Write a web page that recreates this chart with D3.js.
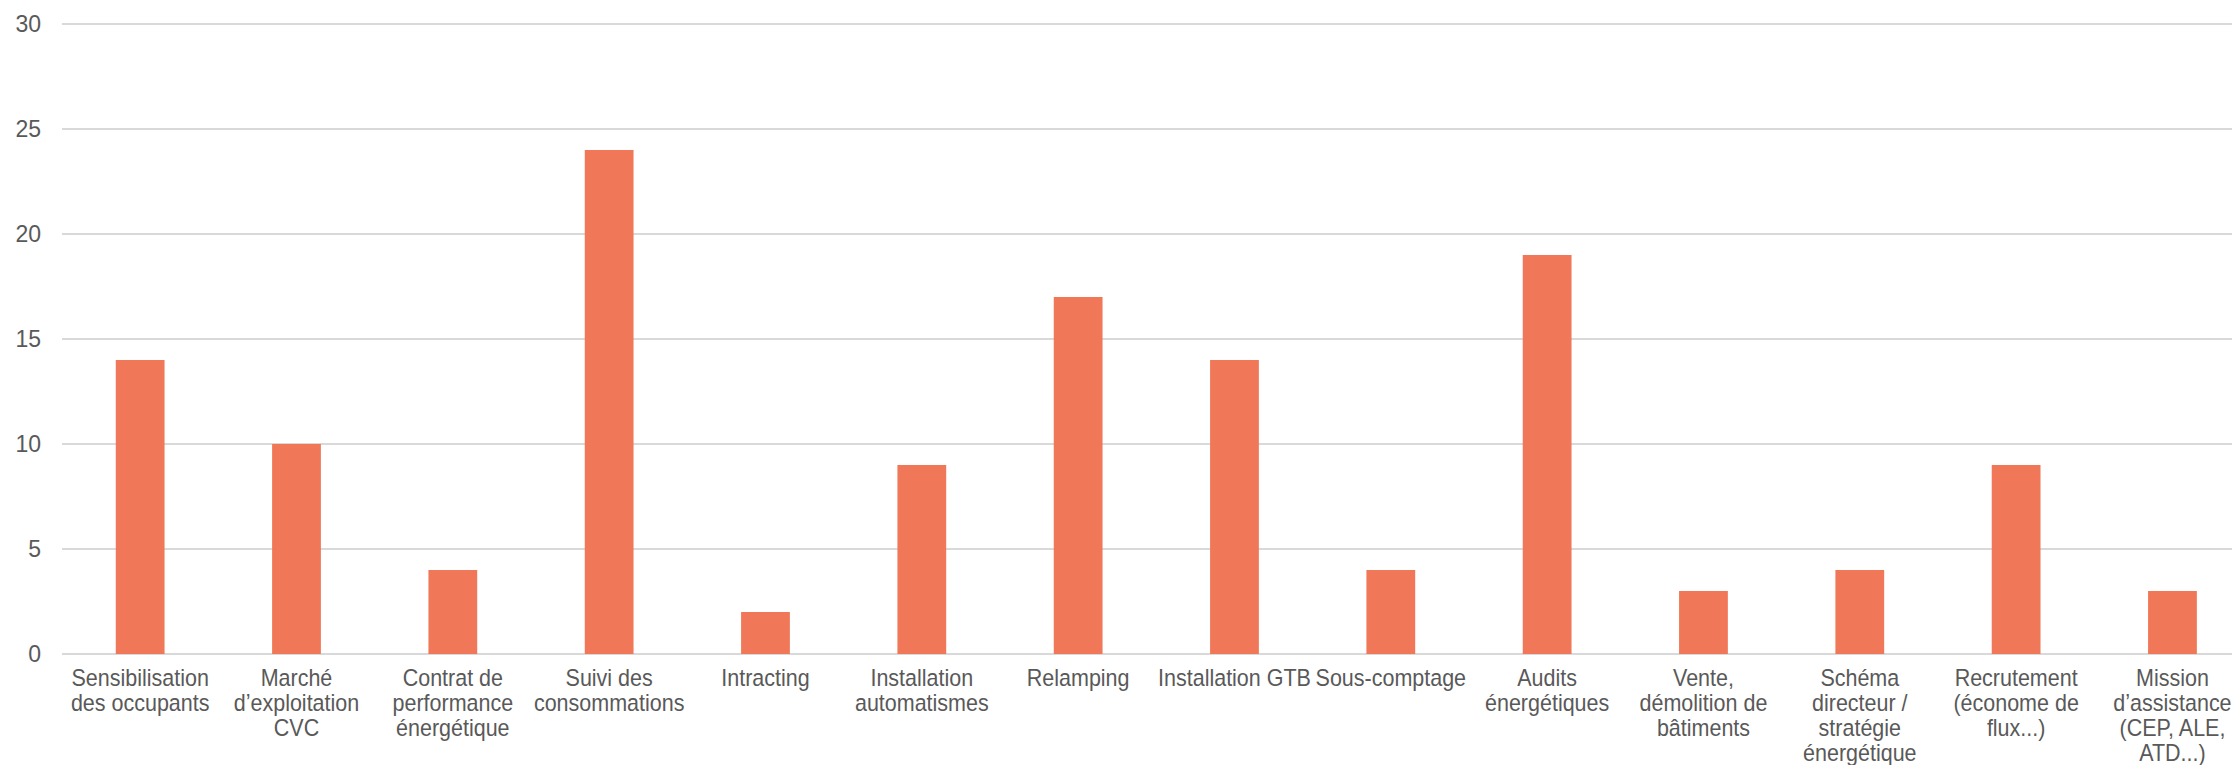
<!DOCTYPE html>
<html>
<head>
<meta charset="utf-8">
<script src="https://cdn.jsdelivr.net/npm/d3@7"></script>
<style>
  html, body { margin: 0; padding: 0; background: #fff; }
  svg { display: block; font-family: "Liberation Sans", Arial, sans-serif; }
</style>
</head>
<body>
<svg id="chart" width="2232" height="765"></svg>
<script>
// categories (lines as wrapped in the original chart)
const categories = [
  ["Sensibilisation", "des occupants"],
  ["Marché", "d’exploitation", "CVC"],
  ["Contrat de", "performance", "énergétique"],
  ["Suivi des", "consommations"],
  ["Intracting"],
  ["Installation", "automatismes"],
  ["Relamping"],
  ["Installation GTB"],
  ["Sous-comptage"],
  ["Audits", "énergétiques"],
  ["Vente,", "démolition de", "bâtiments"],
  ["Schéma", "directeur /", "stratégie", "énergétique"],
  ["Recrutement", "(économe de", "flux...)"],
  ["Mission", "d’assistance", "(CEP, ALE,", "ATD...)"]
]
const values = [14, 10, 4, 24, 2, 9, 17, 14, 4, 19, 3, 4, 9, 3]
const yTicks = [0, 5, 10, 15, 20, 25, 30]

const svg = d3.select('#chart')
const plotLeft = 62, plotTop = 24, plotBottom = 654
const step = 156.33
const stretch = 1.08   // labels look slightly tall in the original

const keys = categories.map(c => c.join(' '))

const x = d3.scaleBand()
    .domain(keys)
    .range([plotLeft, plotLeft + step * keys.length])
    .paddingInner(0.688)
    .paddingOuter(0.344)

const y = d3.scaleLinear()
    .domain([0, 30])
    .range([plotBottom, plotTop])

// gridlines
svg.append('g')
    .selectAll('line')
    .data(yTicks)
    .enter()
    .append('line')
    .attr('x1', plotLeft)
    .attr('x2', plotLeft + step * keys.length)
    .attr('y1', d => y(d))
    .attr('y2', d => y(d))
    .attr('stroke', '#d9d9d9')
    .attr('stroke-width', 2)

// y labels
svg.append('g')
    .selectAll('text')
    .data(yTicks)
    .enter()
    .append('text')
    .attr('x', 41)
    .attr('y', d => y(d))
    .attr('dy', '0.36em')
    .attr('text-anchor', 'end')
    .attr('fill', '#595959')
    .style('font-size', '23px')
    .text(d => d)

// bars
svg.append('g')
    .selectAll('rect')
    .data(values)
    .enter()
    .append('rect')
    .attr('x', (d, i) => x(keys[i]))
    .attr('width', x.bandwidth())
    .attr('y', d => y(d))
    .attr('height', d => y(0) - y(d))
    .attr('fill', '#f07757')

// x labels
const lab = svg.append('g')
    .selectAll('text')
    .data(categories)
    .enter()
    .append('text')
    .attr('transform', (d, i) => 'translate(' + (x(keys[i]) + x.bandwidth() / 2) + ',686) scale(1,' + stretch + ')')
    .attr('text-anchor', 'middle')
    .attr('fill', '#595959')
    .style('font-size', '21.5px')

lab.selectAll('tspan')
    .data(d => d)
    .enter()
    .append('tspan')
    .attr('x', 0)
    .attr('dy', (d, i) => i === 0 ? 0 : 25 / stretch)
    .text(d => d)
</script>
</body>
</html>
